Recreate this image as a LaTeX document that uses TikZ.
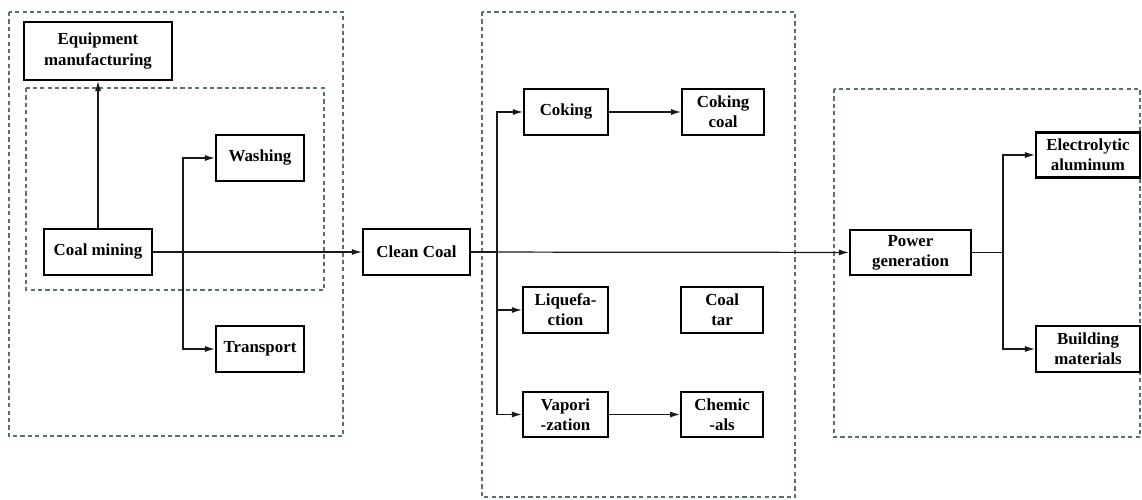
\documentclass[tikz,border=0pt]{standalone}
\usepackage{fontspec}
\setmainfont{Liberation Serif}
\usepackage{xcolor}
\usepackage{tikz}
\usetikzlibrary{arrows.meta, positioning, calc, backgrounds}

\definecolor{groupgray}{RGB}{88,112,112}

\begin{document}
\begin{tikzpicture}[
    >={Latex[length=2mm,width=1.2mm]},
    % --- Node styles ---
    procbox/.style={
        draw=black, line width=1.2pt, fill=white,
        minimum width=#1, minimum height=0.92cm,
        align=center, inner sep=1pt,
        font=\fontsize{9.6}{11.4}\selectfont\bfseries
    },
    procbox/.default=1.7cm,
    % --- Arrow styles ---
    flow/.style={->, line width=0.7pt, color=black!90},
    link/.style={line width=0.7pt, color=black!90},
    groupbox/.style={draw=groupgray, line width=0.6pt,
        dash pattern=on 2.4pt off 1.8pt},
]

\useasboundingbox (0,0) rectangle (22.84,-10);

% ---- Mining stage ----
\node[procbox=2.16cm] (mining) at (1.96,-5.04) {Coal mining};
\node[procbox=2.96cm, minimum height=1.16cm] (equip) at (1.96,-1.02) {Equipment\\manufacturing};
\node[procbox=1.76cm] (washing) at (5.2,-3.16) {Washing};
\node[procbox=1.76cm] (transport) at (5.2,-6.98) {Transport};

% ---- Conversion stage ----
\node[procbox=2.14cm] (clean) at (8.33,-5.04) {Clean Coal};
\node[procbox=1.68cm] (coking) at (11.32,-2.24) {Coking};
\node[procbox=1.64cm, right=1.44cm of coking] (cokecoal) {Coking\\coal};
\node[procbox=1.70cm] (liquef) at (11.31,-6.2) {Liquefa-\\ction};
\node[procbox=1.64cm, right=1.42cm of liquef] (coaltar) {Coal\\tar};
\node[procbox=1.70cm, minimum height=0.9cm] (vapor) at (11.31,-8.29) {Vapori\\-zation};
\node[procbox=1.64cm, minimum height=0.9cm, right=1.42cm of vapor] (chem) {Chemic\\-als};

% ---- Utilisation stage ----
\node[procbox=2.42cm, minimum height=0.9cm] (power) at (18.21,-5.05) {Power\\generation};
\node[procbox=2.08cm, minimum height=0.9cm] (alum) at (21.76,-3.1) {Electrolytic\\aluminum};
\node[procbox=2.08cm] (build) at (21.76,-6.98) {Building\\materials};

% ---- Split points ----
\coordinate[right=0.6cm of mining.east] (minesplit);
\coordinate[right=0.52cm of clean.east] (cleansplit);
\coordinate[right=0.62cm of power.east] (powersplit);

% ---- Main flow ----
\draw[flow] (mining) -- (clean);
\draw[flow] (clean) -- (power);
\draw[flow] (mining.north) -- (equip.south);

\draw[flow] (minesplit) |- (washing);
\draw[flow] (minesplit) |- (transport);

\draw[link] (clean.east) -- (cleansplit);
\draw[flow] (cleansplit) |- (coking);
\draw[flow] (cleansplit) |- (liquef);
\draw[flow] (cleansplit) |- (vapor);
\draw[flow] (coking) -- (cokecoal);
\draw[flow] (vapor) -- (chem);

\draw[link] (power.east) -- (powersplit);
\draw[flow] (powersplit) |- (alum);
\draw[flow] (powersplit) |- (build);

% ---- Dashed grouping boxes ----
\begin{scope}[on background layer]
\draw[groupbox] (0.18,-0.24) rectangle (6.86,-8.72);
\draw[groupbox] (0.52,-1.76) rectangle (6.48,-5.8);
\draw[groupbox] (9.64,-0.24) rectangle (15.9,-9.94);
\draw[groupbox] (16.68,-1.78) rectangle (22.8,-8.74);
\end{scope}

\end{tikzpicture}
\end{document}
